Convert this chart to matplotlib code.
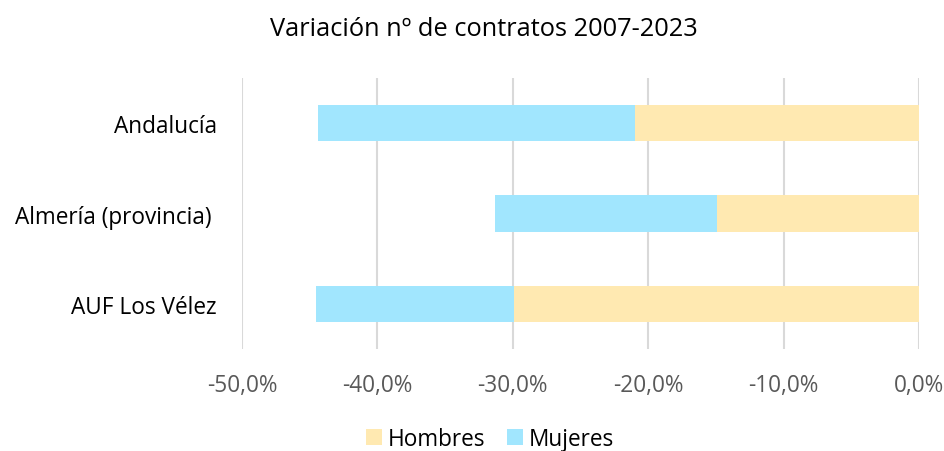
import matplotlib.pyplot as plt
from matplotlib.ticker import FuncFormatter

plt.rcParams['font.family'] = ['Open Sans', 'DejaVu Sans']

categories = ['Andalucía', 'Almería (provincia) ', 'AUF Los Vélez']
hombres = [-21.0, -14.9, -29.9]
mujeres = [-23.4, -16.4, -14.6]

col_h = '#FFE9B1'
col_m = '#A1E6FE'
grey = '#595959'

fig = plt.figure(figsize=(9.45, 4.52), dpi=100)
ax = fig.add_axes([242 / 945, 1 - 350 / 452, (919 - 242) / 945, (350 - 79) / 452])

y = list(range(len(categories)))
ax.barh(y, hombres, height=0.4, color=col_h, label='Hombres')
ax.barh(y, mujeres, left=hombres, height=0.4, color=col_m, label='Mujeres')

ax.set_xlim(-50, 0)
ax.set_ylim(len(categories) - 0.5, -0.5)
ax.set_yticks(y)
ax.set_yticklabels(categories, fontsize=16.3, color='#000000')
ax.set_xticks(range(-50, 1, 10))
ax.xaxis.set_major_formatter(FuncFormatter(lambda v, p: f'{v:.1f}%'.replace('.', ',')))
ax.tick_params(axis='x', labelsize=16.3, labelcolor=grey, length=0, pad=17)
ax.tick_params(axis='y', length=0, pad=18)
ax.grid(axis='x', color='#D9D9D9', linewidth=1.5)
ax.set_axisbelow(True)
for s in ax.spines.values():
    s.set_visible(False)

fig.suptitle('Variación nº de contratos 2007-2023', x=484 / 945, y=1 - 30 / 452,
             va='center', fontsize=18.3, color='#000000')
fig.legend(loc='center', bbox_to_anchor=(490 / 945, 1 - 440 / 452), ncol=2,
           frameon=False, fontsize=16.3, handlelength=0.7, handleheight=0.7,
           handletextpad=0.25, columnspacing=1.0, labelcolor='#000000')

fig.savefig('out.png', dpi=100)
